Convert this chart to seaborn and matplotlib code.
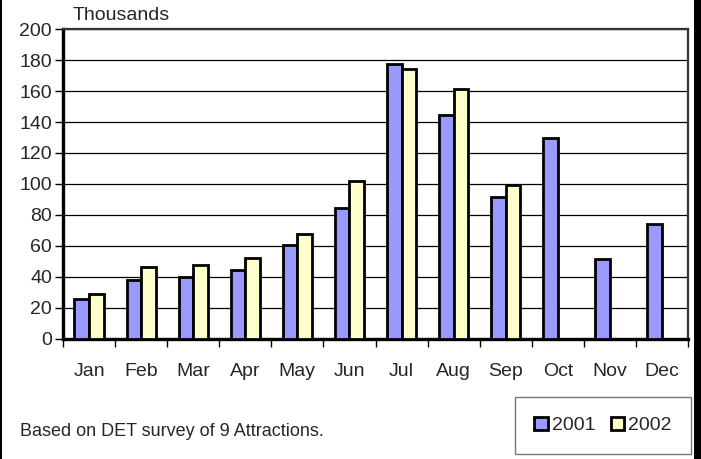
import numpy as np
import pandas as pd
import seaborn as sns
import matplotlib.pyplot as plt
from matplotlib.patches import Rectangle, Patch

# data (thousands of visitors)
months = ['Jan', 'Feb', 'Mar', 'Apr', 'May', 'Jun', 'Jul', 'Aug', 'Sep', 'Oct', 'Nov', 'Dec']
visits_2001 = [25.5, 37.7, 40.1, 44.6, 60.8, 84.7, 177.4, 144.4, 91.6, 129.4, 51.7, 74.1]
visits_2002 = [29.1, 46.1, 47.4, 52.1, 67.5, 102.0, 174.0, 161.7, 99.0, np.nan, np.nan, np.nan]
years = ['2001', '2002']
colors = ['#9999FF', '#FFFFCC']

df = pd.DataFrame({
    'month': months * 2,
    'year': ['2001'] * 12 + ['2002'] * 12,
    'visits': visits_2001 + visits_2002,
})

sns.set_style('white')
plt.rcParams['font.family'] = ['Liberation Sans', 'DejaVu Sans']

fig = plt.figure(figsize=(7.01, 4.59), dpi=100)
W, H = 701, 459
ax = fig.add_axes([63 / W, (H - 338.5) / H, (688 - 63) / W, (338.5 - 29.3) / H])

sns.barplot(data=df, x='month', y='visits', hue='year', order=months, hue_order=years,
            palette=colors, width=0.56, gap=0, errorbar=None, edgecolor='black',
            linewidth=2.0, saturation=1, legend=False, ax=ax, zorder=3)

ax.set_xlim(-0.5, 11.5)
ax.set_ylim(0, 200)
ax.set_yticks(range(0, 201, 20))
ax.yaxis.grid(True, color='black', linewidth=0.9)
ax.set_axisbelow(True)
ax.set_xlabel('')
ax.set_ylabel('')

# ticks: labels at centers, marks at category boundaries
ax.set_xticks(range(12))
ax.set_xticklabels(months)
ax.set_xticks(np.arange(-0.5, 12, 1), minor=True)
ax.tick_params(axis='x', which='major', length=0, pad=18, labelsize=14)
ax.tick_params(axis='x', which='minor', length=6, width=1, color='black', direction='out', bottom=True)
ax.tick_params(axis='y', length=6, width=1, color='black', direction='out', left=True, labelsize=14, pad=2)

for side in ['left', 'bottom']:
    ax.spines[side].set_color('black')
    ax.spines[side].set_linewidth(2.4)
for side in ['top', 'right']:
    ax.spines[side].set_color('#333333')
    ax.spines[side].set_linewidth(1.6)

fig.text(73 / W, 1 - 15 / H, 'Thousands', fontsize=14, va='center', ha='left')
fig.text(20 / W, 1 - 431 / H, 'Based on DET survey of 9 Attractions.', fontsize=13, va='center', ha='left')

handles = [Patch(facecolor=c, edgecolor='black', linewidth=2.0) for c in colors]
leg = fig.legend(handles, years, ncol=2, loc='center', bbox_to_anchor=(603 / W, 1 - 425.5 / H),
                 fontsize=14, frameon=True, fancybox=False, edgecolor='#555555',
                 handlelength=0.7, handleheight=0.7, handletextpad=0.2, columnspacing=0.8,
                 borderpad=1.0)
leg.get_frame().set_linewidth(1.0)

# cropped frame edges of the original picture
fig.patches.append(Rectangle((694 / W, 0), 7 / W, 1, transform=fig.transFigure,
                             facecolor='black', edgecolor='none'))
fig.patches.append(Rectangle((0, 0), 1.5 / W, 1, transform=fig.transFigure,
                             facecolor='black', edgecolor='none'))

fig.savefig('out.png', dpi=100)
